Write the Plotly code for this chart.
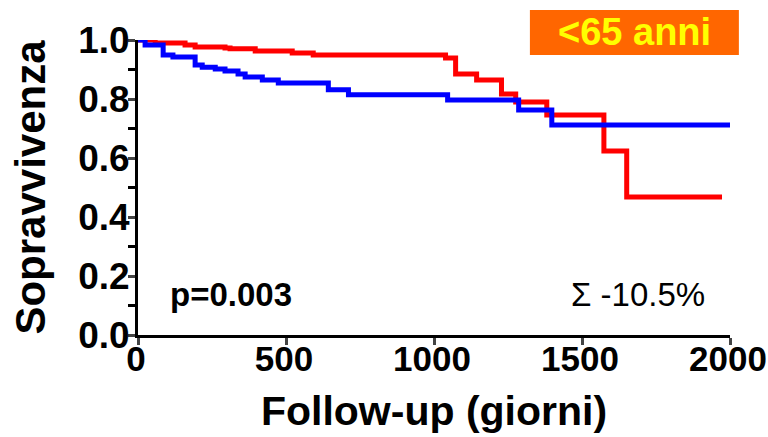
import plotly.graph_objects as go

# Kaplan-Meier step data (days, survival)
red_days = [0, 58, 159, 193, 294, 311, 396, 521, 592, 1039, 1073, 1144, 1228, 1276, 1381, 1574, 1651, 1973]
red_surv = [1.0, 0.990, 0.983, 0.976, 0.973, 0.970, 0.963, 0.956, 0.949, 0.939, 0.885, 0.864, 0.817, 0.790, 0.746, 0.624, 0.468, 0.468]

blue_days = [0, 24, 85, 118, 193, 217, 261, 294, 338, 362, 420, 474, 643, 711, 1046, 1286, 1398, 2014]
blue_surv = [1.0, 0.983, 0.949, 0.942, 0.915, 0.908, 0.902, 0.895, 0.885, 0.875, 0.864, 0.854, 0.831, 0.814, 0.797, 0.763, 0.712, 0.712]

x_ticks = [0, 500, 1000, 1500, 2000]
y_ticks = [0.0, 0.2, 0.4, 0.6, 0.8, 1.0]
y_tick_labels = ["0.0", "0.2", "0.4", "0.6", "0.8", "1.0"]

FONT = "Liberation Sans, Arial, sans-serif"

fig = go.Figure()
fig.add_trace(go.Scatter(x=red_days, y=red_surv, mode="lines", line=dict(color="#FF0000", width=5, shape="hv"),
                         cliponaxis=False, showlegend=False))
fig.add_trace(go.Scatter(x=blue_days, y=blue_surv, mode="lines", line=dict(color="#0000FF", width=5, shape="hv"),
                         cliponaxis=False, showlegend=False))

fig.update_layout(
    width=768, height=437,
    margin=dict(l=138, r=38, t=40, b=102, autoexpand=False),
    plot_bgcolor="white", paper_bgcolor="white",
    font=dict(family=FONT, color="black"),
    xaxis=dict(range=[0, 2000], tickvals=x_ticks, ticks="outside", ticklen=7, tickwidth=3,
               showline=True, linewidth=3, linecolor="black", showgrid=False, zeroline=False,
               automargin=False, ticklabeloverflow="allow", ticklabelstandoff=-16, ticklabelshift=-2,
               tickfont=dict(size=35, family=FONT, weight="bold"),
               title=dict(text="<b>Follow-up (giorni)</b>", font=dict(size=41, family=FONT), standoff=20)),
    yaxis=dict(range=[0, 1.0], tickvals=y_ticks, ticktext=y_tick_labels, ticks="outside", ticklen=7, tickwidth=3,
               showline=True, linewidth=3, linecolor="black", showgrid=False, zeroline=False,
               automargin=False, ticklabeloverflow="allow", ticklabelstandoff=-9,
               minor=dict(dtick=0.1, ticks="outside", ticklen=7, tickwidth=3, tickcolor="black", showgrid=False),
               tickfont=dict(size=37, family=FONT, weight="bold"),
               title=dict(text="<b>Sopravvivenza</b>", font=dict(size=42, family=FONT), standoff=20)),
)

fig.add_shape(type="rect", xref="paper", yref="paper", x0=0.662, x1=1.015, y0=0.949, y1=1.102,
              fillcolor="#FF6600", line=dict(width=0), layer="above")
fig.add_annotation(xref="paper", yref="paper", x=(0.662 + 1.015) / 2, y=(0.949 + 1.102) / 2,
                   text="<b>&lt;65 anni</b>", showarrow=False,
                   font=dict(size=38, color="#FFFF00", family=FONT), xanchor="center", yanchor="middle")
fig.add_annotation(xref="paper", yref="paper", x=(231 - 138) / 592, y=(335 - 294) / 295,
                   text="<b>p=0.003</b>", showarrow=False, font=dict(size=33, family=FONT),
                   xanchor="center", yanchor="middle")
fig.add_annotation(xref="paper", yref="paper", x=(638 - 138) / 592, y=(335 - 294) / 295,
                   text="Σ -10.5%", showarrow=False, font=dict(size=33, family=FONT),
                   xanchor="center", yanchor="middle")

fig.write_html("out.html", config={"displayModeBar": False},
               post_script="document.body.style.margin='0px';")
